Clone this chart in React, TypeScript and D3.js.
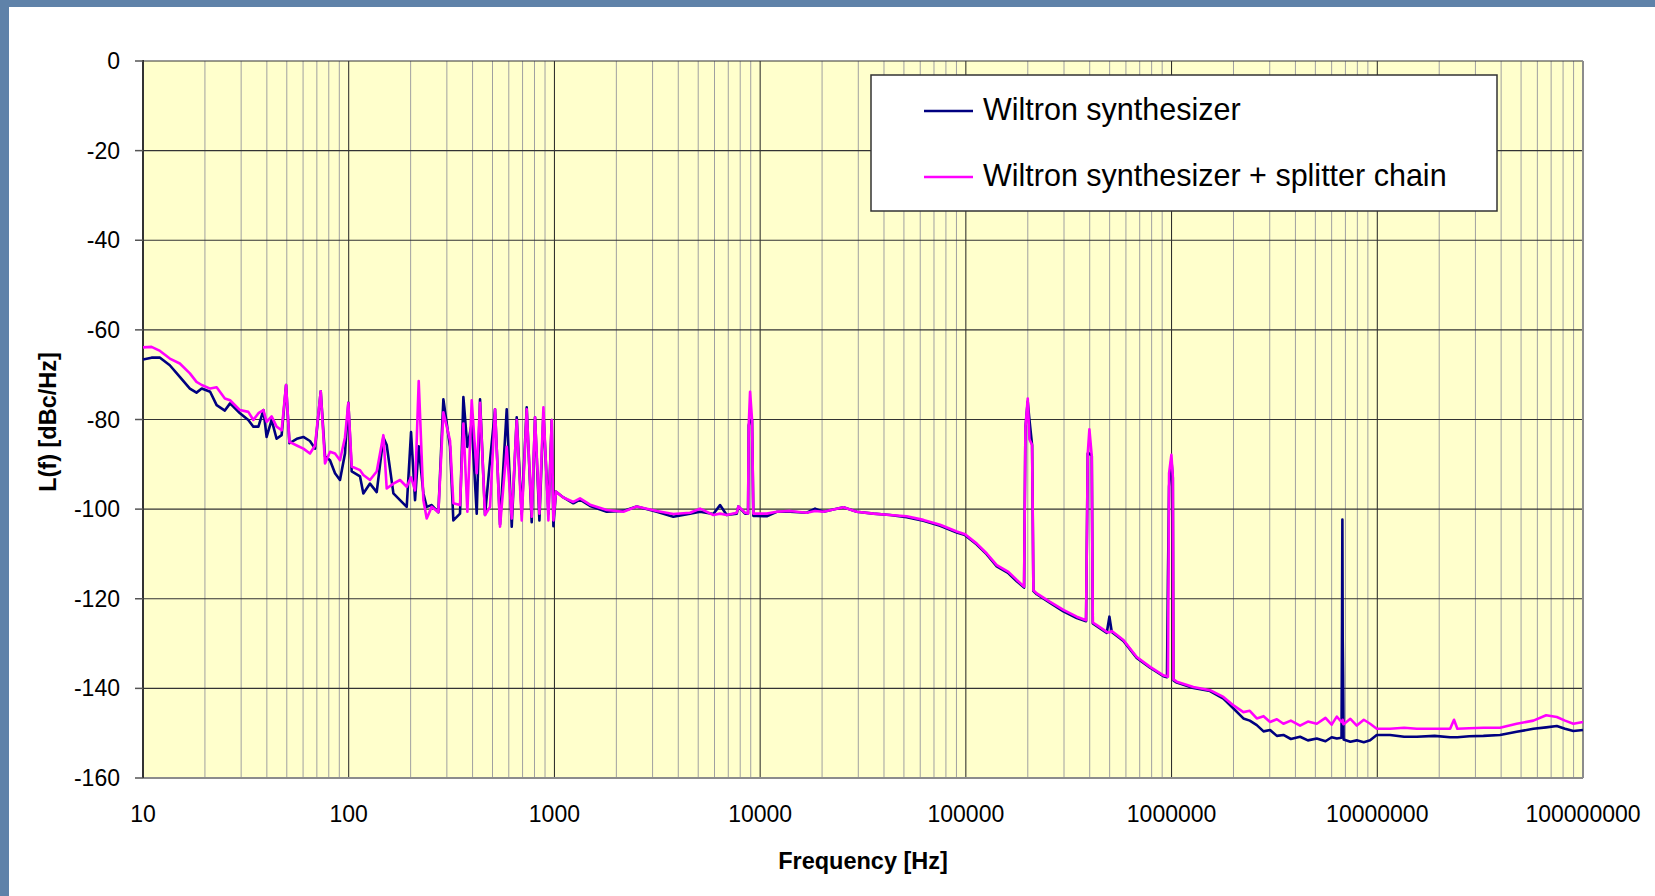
import * as d3 from 'd3';

// frequency points [Hz]
const FREQ = [
  10, 11, 12.1, 13.5, 15.1, 16.9, 18.2, 19.3, 21.2, 22.8, 25, 26.5, 29.6, 32.5, 34.4, 36.4, 38.5, 39.9, 42.2, 44.6,
  47.2, 49.6, 51.5, 55.9, 60.2, 64.8, 68.6, 73.1, 76.7, 81.1, 85.8, 90.7, 95.9, 99.6, 103.4, 113.5, 117.8, 126.9, 136.8, 147.4,
  153, 164.9, 177.6, 191.4, 200.9, 210.1, 218.9, 230.7, 239.4, 253.2, 272.8, 288.5, 310.8, 322.6, 347.6, 360.9, 377.4, 396.2, 419, 434.9,
  459.9, 486.4, 514.4, 543.9, 586.3, 620, 655.7, 693.4, 733.2, 775.4, 804.8, 845.2, 884, 934.8, 970.3, 988.6, 1018,
  1105, 1236, 1332, 1490, 1796, 2163, 2512, 3144, 3784, 4563, 5103, 5924, 6383, 6880, 7695, 7840, 8447, 8735, 8800,
  8933, 9134, 9268, 9623, 10770, 12040, 13980, 16840, 18490, 20300, 22700, 25390, 29480, 35520, 42800, 51590, 62150, 74920, 90300,
  99100, 113000, 126400, 141300, 161000, 176800, 191900, 194800, 199900, 203700, 209900, 213000, 221100, 256700, 297900, 346000,
  384000, 391300, 398600, 409300, 414000, 432900, 484200, 498700, 512000, 583300, 677000, 786300, 912700, 950000, 960000, 972500,
  997800, 1014000, 1021000, 1060000, 1276000, 1538000,
  1786000, 2000000, 2234000, 2400000, 2596000, 2800000, 3012000, 3250000, 3497000, 3800000, 4214000, 4600000, 5080000, 5600000,
  6000000, 6355000, 6700000, 6740000, 6766000, 6790000, 6820000, 6860000, 7400000, 7950000, 8600000, 9230000, 9940000, 11540000,
  13500000, 15560000, 19000000, 22600000, 23600000, 24500000, 28000000, 32800000, 39500000, 47600000, 57400000, 66200000,
  74600000, 81800000, 89800000, 100000000,
];

// Wiltron synthesizer [dBc/Hz]
const WILTRON = [
  -66.6, -66.2, -66.2, -67.9, -70.5, -73.1, -74.0, -73.1, -73.8, -76.8, -78.0, -76.4, -78.6, -80.1, -81.6, -81.6, -77.9, -83.9, -80.1, -84.3,
  -83.5, -72.3, -85.3, -84.3, -83.9, -84.8, -86.5, -73.7, -88.2, -89.1, -92.0, -93.5, -87.6, -76.3, -91.6, -92.7, -96.5, -94.3, -96.2, -84.0,
  -85.7, -96.5, -98.0, -99.5, -82.8, -98.0, -86.0, -96.5, -99.5, -99.1, -100.7, -75.5, -86.1, -102.5, -101.0, -75.0, -86.1, -80.9, -101.0, -75.5,
  -101.3, -89.1, -77.7, -103.4, -77.7, -103.9, -79.5, -101.0, -77.3, -102.9, -79.5, -102.5, -78.6, -101.0, -80.1, -103.8, -96.1,
  -97.4, -98.7, -97.9, -99.3, -100.6, -100.4, -99.4, -100.6, -101.7, -101.0, -100.6, -101.1, -99.1, -101.3, -101.0, -99.4, -101.0, -101.0, -81.3,
  -80.1, -80.1, -101.5, -101.5, -101.6, -100.6, -100.6, -100.8, -99.9, -100.6, -100.1, -99.6, -100.6, -101.0, -101.3, -101.8, -102.6, -103.7, -105.2,
  -105.8, -107.9, -110.1, -112.8, -114.3, -116.1, -117.5, -81.8, -76.0, -80.0, -85.7, -118.3, -119.0, -120.9, -122.8, -124.3,
  -125.0, -87.6, -87.6, -88.1, -125.5, -126.1, -127.6, -124.0, -127.4, -129.4, -133.2, -135.4, -137.3, -137.5, -116.0, -95.0,
  -89.0, -93.0, -138.2, -138.7, -139.9, -140.6,
  -142.3, -144.5, -146.7, -147.2, -148.2, -149.6, -149.3, -150.6, -150.4, -151.3, -150.8, -151.6, -151.2, -151.8,
  -150.9, -151.2, -151.0, -125.0, -102.3, -129.0, -137.0, -151.4, -151.9, -151.6, -152.0, -151.6, -150.4, -150.4,
  -150.8, -150.8, -150.6, -150.9, -150.9, -150.9, -150.7, -150.6, -150.4, -149.7, -149.0, -148.7,
  -148.4, -149.0, -149.5, -149.3,
];

// Wiltron synthesizer + splitter chain [dBc/Hz]
const CHAIN = [
  -63.9, -63.8, -64.7, -66.4, -67.5, -69.7, -71.6, -72.3, -73.1, -72.8, -75.3, -75.7, -77.9, -78.3, -80.1, -78.6, -77.9, -80.5, -79.3, -81.6,
  -82.4, -72.3, -85.0, -85.8, -86.5, -87.6, -85.8, -73.7, -89.8, -87.2, -87.6, -89.1, -84.0, -76.3, -90.5, -91.3, -92.4, -93.5, -91.6, -83.5,
  -95.4, -94.3, -93.5, -95.0, -92.9, -95.8, -71.4, -98.0, -102.1, -99.5, -100.7, -78.4, -84.7, -98.7, -99.1, -80.9, -100.6, -75.7, -92.0, -76.3,
  -101.3, -99.5, -77.7, -103.9, -86.1, -102.1, -80.1, -102.5, -77.7, -101.7, -79.5, -101.0, -77.3, -102.5, -80.1, -102.5, -96.1,
  -97.4, -98.4, -97.6, -99.0, -100.2, -100.6, -99.4, -100.4, -101.1, -100.8, -99.9, -101.3, -101.0, -101.3, -100.8, -99.4, -100.8, -101.0, -81.3,
  -73.8, -80.1, -101.0, -101.0, -101.0, -100.6, -100.4, -100.8, -100.4, -100.6, -100.1, -99.6, -100.6, -101.0, -101.3, -101.6, -102.4, -103.5, -105.0,
  -105.6, -107.7, -109.9, -112.5, -114.0, -115.8, -117.3, -81.8, -75.3, -84.4, -85.7, -118.1, -118.8, -120.7, -122.5, -124.0,
  -124.8, -87.6, -82.2, -88.1, -125.3, -125.9, -127.4, -127.5, -127.2, -129.2, -133.0, -135.2, -137.1, -137.3, -137.4, -92.0,
  -87.9, -92.7, -138.0, -138.5, -139.7, -140.4,
  -141.9, -143.8, -145.3, -145.0, -146.7, -146.2, -147.5, -146.9, -147.9, -147.2, -148.3, -147.4, -147.9, -146.6,
  -148.1, -146.3, -147.5, -147.5, -147.5, -147.0, -147.8, -148.0, -146.8, -148.3, -147.0, -147.9, -149.0, -149.0,
  -148.8, -149.0, -149.0, -149.0, -147.0, -149.0, -148.9, -148.8, -148.8, -147.9, -147.2, -146.0,
  -146.4, -147.2, -147.9, -147.5,
];

const X_LABELS = ['10', '100', '1000', '10000', '100000', '1000000', '10000000', '100000000'];
const Y_TICKS = [0, -20, -40, -60, -80, -100, -120, -140, -160];
const SERIES = [
  { name: 'Wiltron synthesizer', values: WILTRON, color: '#000080' },
  { name: 'Wiltron synthesizer + splitter chain', values: CHAIN, color: '#ff00ff' },
];

const FONT = '"Liberation Sans", Arial, sans-serif';

export default function App() {
  const width = 1655;
  const height = 896;
  const plot = { left: 143, right: 1583, top: 61, bottom: 778 };

  const x = d3.scaleLog().domain([10, 1e8]).range([plot.left, plot.right]);
  const y = d3.scaleLinear().domain([-160, 0]).range([plot.bottom, plot.top]);

  const line = d3.line<number>()
    .x((_, i) => x(FREQ[i]))
    .y(d => y(d));

  const allTicks = x.ticks();
  const isDecade = (v: number) => Math.abs(Math.log10(v) - Math.round(Math.log10(v))) < 1e-9;
  const minor = allTicks.filter(v => !isDecade(v));
  const major = allTicks.filter(v => isDecade(v));

  return (
    <div style={{ position: 'fixed', left: 0, top: 0 }}>
      <svg width={width} height={height} style={{ display: 'block' }} fontFamily={FONT}>
        {/* slide background */}
        <rect x={0} y={0} width={width} height={height} fill="#5f82a9" />
        <rect x={9} y={7} width={width - 9} height={height - 7} fill="#ffffff" />

        {/* plot area */}
        <rect x={plot.left} y={plot.top} width={plot.right - plot.left} height={plot.bottom - plot.top} fill="#ffffcc" />

        {minor.map(v => (
          <line key={'mi' + v} x1={x(v)} x2={x(v)} y1={plot.top} y2={plot.bottom} stroke="#a0a0a0" strokeWidth={1} />
        ))}
        {major.map(v => (
          <line key={'ma' + v} x1={x(v)} x2={x(v)} y1={plot.top} y2={plot.bottom} stroke="#222" strokeWidth={1} />
        ))}
        {Y_TICKS.map(v => (
          <line key={'h' + v} x1={plot.left} x2={plot.right} y1={y(v)} y2={y(v)} stroke="#333" strokeWidth={1.2} />
        ))}

        {/* borders */}
        <line x1={plot.left} x2={plot.right} y1={plot.bottom} y2={plot.bottom} stroke="#8c8c8c" strokeWidth={2} />
        <line x1={plot.right} x2={plot.right} y1={plot.top} y2={plot.bottom} stroke="#8c8c8c" strokeWidth={2} />
        <line x1={plot.left} x2={plot.left} y1={plot.top - 1} y2={plot.bottom} stroke="#333" strokeWidth={2} />

        {/* y ticks */}
        {Y_TICKS.map(v => (
          <g key={'yt' + v}>
            <line x1={plot.left - 8} x2={plot.left} y1={y(v)} y2={y(v)} stroke="#555" strokeWidth={1.5} />
            <text x={120} y={y(v) + 8} textAnchor="end" fontSize={23} fill="#000">{v}</text>
          </g>
        ))}

        {/* x labels */}
        {X_LABELS.map(t => (
          <text key={'xl' + t} x={x(+t)} y={822} textAnchor="middle" fontSize={23} fill="#000">{t}</text>
        ))}

        {/* series */}
        {SERIES.map(s => (
          <path key={s.name} d={line(s.values) || ''} fill="none" stroke={s.color} strokeWidth={2.6} strokeLinejoin="round" />
        ))}

        {/* axis titles */}
        <text x={(plot.left + plot.right) / 2} y={869} textAnchor="middle" fontSize={23.5} fontWeight="bold" fill="#000">
          Frequency [Hz]
        </text>
        <text transform="translate(56,422) rotate(-90)" textAnchor="middle" fontSize={23.5} fontWeight="bold" fill="#000">
          L(f) [dBc/Hz]
        </text>

        {/* legend */}
        <rect x={871} y={75} width={626} height={136} fill="#ffffff" stroke="#333" strokeWidth={1.5} />
        {SERIES.map((s, i) => (
          <g key={'lg' + i}>
            <line x1={924} x2={973} y1={111 + i * 66} y2={111 + i * 66} stroke={s.color} strokeWidth={2.5} />
            <text x={983} y={120 + i * 66} fontSize={30.5} fill="#000">{s.name}</text>
          </g>
        ))}
      </svg>
    </div>
  );
}
